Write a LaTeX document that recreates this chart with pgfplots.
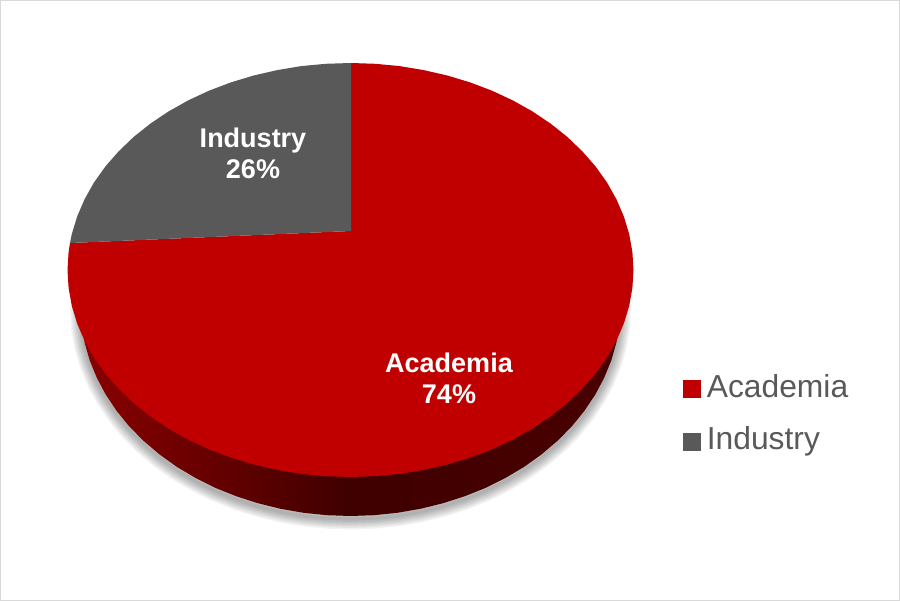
\documentclass[border=0pt]{standalone}
\usepackage{fontspec}
\setmainfont{Liberation Sans}
\usepackage{pgfplots}
\usepackage{pgfplotstable}
\pgfplotsset{compat=1.18}

\definecolor{acad}{HTML}{C00000}
\definecolor{indu}{HTML}{595959}
\definecolor{frame}{HTML}{D9D9D9}

% all positions are pixels of the picture, y downwards
\pgfplotstableread{
x y
351 231
351 63
375.2 63.8
399.6 66.1
423.7 70.1
447.3 75.5
470.1 82.4
492 90.7
512.8 100.4
532.4 111.4
550.6 123.6
567.3 136.9
582.3 151.3
595.6 166.5
607 182.5
616.4 199.2
623.8 216.4
629.2 234.1
632.4 252
633.5 270
632.4 288
629.2 305.9
623.8 323.6
616.4 340.8
607 357.5
595.6 373.5
582.3 388.7
567.3 403.1
550.6 416.4
532.4 428.6
512.8 439.6
492 449.3
470.1 457.6
447.3 464.5
423.7 469.9
399.6 473.9
375.2 476.2
350.5 477
325.8 476.2
301.4 473.9
277.3 469.9
253.7 464.5
230.9 457.6
209 449.3
188.2 439.6
168.6 428.6
150.4 416.4
133.7 403.1
118.7 388.7
105.4 373.5
94 357.5
84.6 340.8
77.2 323.6
71.8 305.9
68.6 288
67.5 270
68.6 252
70 243
}\academia

\pgfplotstableread{
x y
351 231
70 243
71.8 234.1
77.2 216.4
84.6 199.2
94 182.5
105.4 166.5
118.7 151.3
133.7 136.9
150.4 123.6
168.6 111.4
188.2 100.4
209 90.7
230.9 82.4
253.7 75.5
277.3 70.1
301.4 66.1
325.8 63.8
351 63
}\industry

% lower rim of the disc
\pgfplotstableread{
x y
620.5 306
619.5 324.3
616.4 342.5
611.3 360.4
604.2 377.8
595.2 394.7
584.3 411
571.7 426.5
557.3 441
541.4 454.5
524.1 466.9
505.4 478
485.5 487.9
464.6 496.3
442.8 503.3
420.4 508.8
397.4 512.8
374 515.2
350.5 516
327 515.2
303.6 512.8
280.6 508.8
258.2 503.3
236.4 496.3
215.5 487.9
195.6 478
176.9 466.9
159.6 454.5
143.7 441
129.3 426.5
116.7 411
105.8 394.7
96.8 377.8
89.7 360.4
84.6 342.5
81.5 324.3
80.5 306
}\rim

\begin{document}
\begin{tikzpicture}
\begin{axis}[
    scale only axis,
    width=900pt,
    height=601pt,
    xmin=0, xmax=900,
    ymin=0, ymax=601,
    y dir=reverse,
    axis lines=none,
    clip=false,
    legend style={
        at={(axis cs:683,427)}, anchor=west,
        draw=none, fill=none,
        font=\fontsize{31.8}{31.8}\selectfont,
        text=indu,
        inner sep=0pt,
        nodes={inner sep=0pt, anchor=base west, text height=23pt, text depth=30pt},
    },
    legend cell align=left,
]
    \addlegendimage{only marks, mark=square*, mark size=8.3pt, mark options={draw=acad, fill=acad, yshift=8.5pt}}
    \addlegendimage{only marks, mark=square*, mark size=8.3pt, mark options={draw=indu, fill=indu, yshift=8.5pt}}
    \addlegendentry{\hspace{7pt}Academia}
    \addlegendentry{\hspace{7pt}Industry}

    % shadow under the rim
    \pgfplotsinvokeforeach{21,18,15,12,9,6,3}{
        \addplot[draw=black, draw opacity=0.05, line width=#1pt, line join=round, line cap=round, yshift=-3pt, forget plot] table {\rim};
    }
    % side of the disc, then the top face
    \addplot[draw=none, left color=acad!72!black, right color=acad!38!black, middle color=acad!33!black, forget plot] table {\rim};
    \addplot[fill=acad, draw=none, forget plot] table {\academia};
    \addplot[fill=indu, draw=none, forget plot] table {\industry};

    % picture frame
    \addplot[draw=frame, line width=1pt, forget plot] coordinates {(0.5,0.5) (899.5,0.5) (899.5,600.5) (0.5,600.5) (0.5,0.5)};

    \node[anchor=base, text=white, font=\fontsize{27}{27}\selectfont\bfseries] at (axis cs:253,148) {Industry};
    \node[anchor=base, text=white, font=\fontsize{27}{27}\selectfont\bfseries] at (axis cs:253,179) {26\%};
    \node[anchor=base, text=white, font=\fontsize{27}{27}\selectfont\bfseries] at (axis cs:449,373) {Academia};
    \node[anchor=base, text=white, font=\fontsize{27}{27}\selectfont\bfseries] at (axis cs:449,404) {74\%};
\end{axis}
\end{tikzpicture}
\end{document}
